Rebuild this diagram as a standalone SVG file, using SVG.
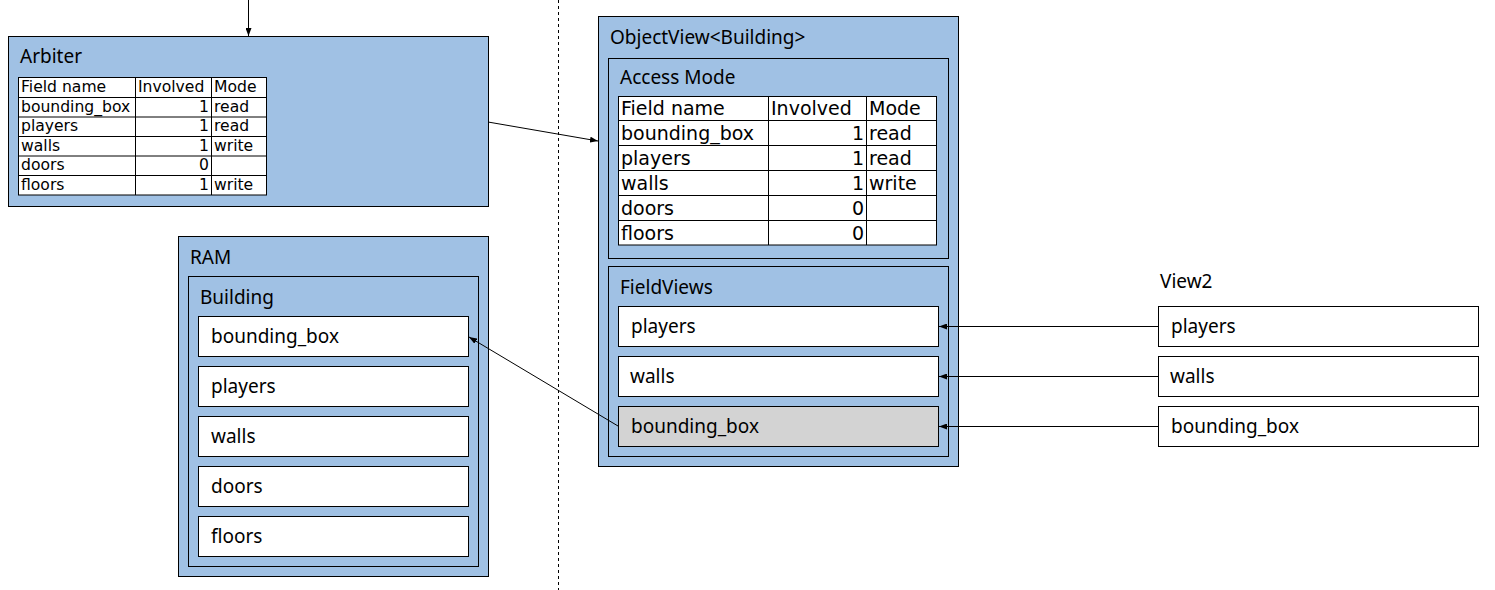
<svg xmlns="http://www.w3.org/2000/svg" width="1495" height="590" viewBox="0 0 1495 590">
<style>
.box{fill:#a0c1e4;stroke:#000;stroke-width:1}
.cell{fill:#fff;stroke:#000;stroke-width:1}
.grey{fill:#d3d3d3;stroke:#000;stroke-width:1}
.t{font-family:"Noto Sans","DejaVu Sans",sans-serif;font-size:19px;fill:#000}
.ts{font-family:"DejaVu Sans",sans-serif;font-size:15.6px;fill:#000}
.tb{font-family:"DejaVu Sans",sans-serif;font-size:19px;fill:#000}
.r{text-anchor:end}
.ln{stroke:#000;stroke-width:1;fill:none}
</style>
<defs>
<marker id="ah" markerWidth="8" markerHeight="6" refX="8" refY="3" orient="auto" markerUnits="userSpaceOnUse">
<path d="M0,0 L8,3 L0,6 z" fill="#000"/>
</marker>
</defs>
<line x1="558.5" y1="0" x2="558.5" y2="590" stroke="#000" stroke-width="1" stroke-dasharray="3,3"/>
<g id="arbiter">
<rect class="box" x="8.5" y="36.5" width="480" height="170"/>
<text class="t" x="20" y="63">Arbiter</text>
<g class="ln">
<rect class="cell" x="18.5" y="77.5" width="248" height="117.5"/>
<line x1="18.5" y1="97.5" x2="266.5" y2="97.5"/>
<line x1="18.5" y1="117" x2="266.5" y2="117"/>
<line x1="18.5" y1="136.5" x2="266.5" y2="136.5"/>
<line x1="18.5" y1="156" x2="266.5" y2="156"/>
<line x1="18.5" y1="175.5" x2="266.5" y2="175.5"/>
<line x1="135.5" y1="77.5" x2="135.5" y2="195"/>
<line x1="211.5" y1="77.5" x2="211.5" y2="195"/>
</g>
<text class="ts" x="21" y="92">Field name</text><text class="ts" x="138" y="92">Involved</text><text class="ts" x="214" y="92">Mode</text>
<text class="ts" x="21" y="112">bounding_box</text><text class="ts r" x="209" y="112">1</text><text class="ts" x="214" y="112">read</text>
<text class="ts" x="21" y="131">players</text><text class="ts r" x="209" y="131">1</text><text class="ts" x="214" y="131">read</text>
<text class="ts" x="21" y="151">walls</text><text class="ts r" x="209" y="151">1</text><text class="ts" x="214" y="151">write</text>
<text class="ts" x="21" y="170">doors</text><text class="ts r" x="209" y="170">0</text>
<text class="ts" x="21" y="190">floors</text><text class="ts r" x="209" y="190">1</text><text class="ts" x="214" y="190">write</text>
</g>
<g id="ram">
<rect class="box" x="178.5" y="236.5" width="310" height="340"/>
<text class="t" x="190" y="264">RAM</text>
<rect class="box" x="188.5" y="276.5" width="290" height="290"/>
<text class="t" x="200" y="304">Building</text>
<rect class="cell" x="198.5" y="316.5" width="270" height="40"/><text class="t" x="211" y="343">bounding_box</text>
<rect class="cell" x="198.5" y="366.5" width="270" height="40"/><text class="t" x="211" y="393">players</text>
<rect class="cell" x="198.5" y="416.5" width="270" height="40"/><text class="t" x="211" y="443">walls</text>
<rect class="cell" x="198.5" y="466.5" width="270" height="40"/><text class="t" x="211" y="493">doors</text>
<rect class="cell" x="198.5" y="516.5" width="270" height="40"/><text class="t" x="211" y="543">floors</text>
</g>
<g id="objectview">
<rect class="box" x="598.5" y="16.5" width="360" height="450"/>
<text class="t" x="610" y="44">ObjectView&lt;Building&gt;</text>
<rect class="box" x="608.5" y="58.5" width="340" height="200"/>
<text class="t" x="620" y="84">Access Mode</text>
<g class="ln">
<rect class="cell" x="618.5" y="96.5" width="318" height="148.5"/>
<line x1="618.5" y1="120.5" x2="936.5" y2="120.5"/>
<line x1="618.5" y1="145.5" x2="936.5" y2="145.5"/>
<line x1="618.5" y1="170.5" x2="936.5" y2="170.5"/>
<line x1="618.5" y1="195.5" x2="936.5" y2="195.5"/>
<line x1="618.5" y1="220.5" x2="936.5" y2="220.5"/>
<line x1="768.5" y1="96.5" x2="768.5" y2="245"/>
<line x1="866.5" y1="96.5" x2="866.5" y2="245"/>
</g>
<text class="tb" x="621" y="115">Field name</text><text class="tb" x="771" y="115">Involved</text><text class="tb" x="869" y="115">Mode</text>
<text class="tb" x="621" y="140">bounding_box</text><text class="tb r" x="864" y="140">1</text><text class="tb" x="869" y="140">read</text>
<text class="tb" x="621" y="165">players</text><text class="tb r" x="864" y="165">1</text><text class="tb" x="869" y="165">read</text>
<text class="tb" x="621" y="190">walls</text><text class="tb r" x="864" y="190">1</text><text class="tb" x="869" y="190">write</text>
<text class="tb" x="621" y="215">doors</text><text class="tb r" x="864" y="215">0</text>
<text class="tb" x="621" y="240">floors</text><text class="tb r" x="864" y="240">0</text>
<rect class="box" x="608.5" y="266.5" width="340" height="190"/>
<text class="t" x="620" y="294">FieldViews</text>
<rect class="cell" x="618.5" y="306.5" width="320" height="40"/><text class="t" x="631" y="333">players</text>
<rect class="cell" x="618.5" y="356.5" width="320" height="40"/><text class="t" x="630" y="383">walls</text>
<rect class="grey" x="618.5" y="406.5" width="320" height="40"/><text class="t" x="631" y="433">bounding_box</text>
</g>
<g id="view2">
<text class="t" x="1160" y="288">View2</text>
<rect class="cell" x="1158.5" y="306.5" width="320" height="40"/><text class="t" x="1171" y="333">players</text>
<rect class="cell" x="1158.5" y="356.5" width="320" height="40"/><text class="t" x="1170" y="383">walls</text>
<rect class="cell" x="1158.5" y="406.5" width="320" height="40"/><text class="t" x="1171" y="433">bounding_box</text>
</g>
<g id="connectors" class="ln">
<line x1="248.5" y1="0" x2="248.5" y2="36" marker-end="url(#ah)"/>
<line x1="488" y1="122" x2="598" y2="141" marker-end="url(#ah)"/>
<line x1="618" y1="426" x2="469" y2="337" marker-end="url(#ah)"/>
<line x1="1158" y1="326.5" x2="939" y2="326.5" marker-end="url(#ah)"/>
<line x1="1158" y1="376.5" x2="939" y2="376.5" marker-end="url(#ah)"/>
<line x1="1158" y1="426.5" x2="939" y2="426.5" marker-end="url(#ah)"/>
</g>
</svg>
